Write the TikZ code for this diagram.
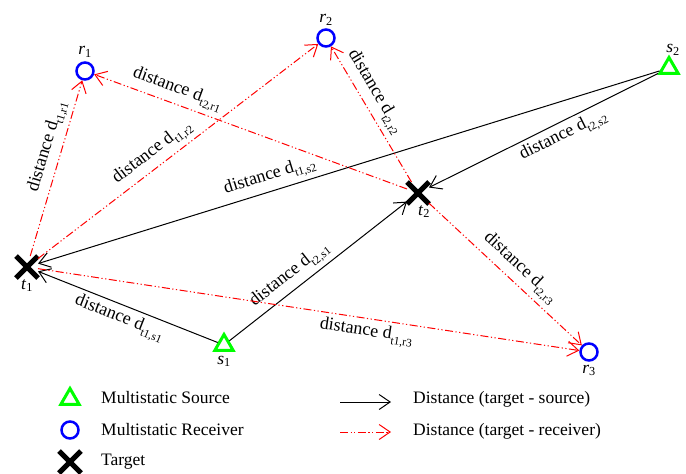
\documentclass[tikz,border=0pt]{standalone}
\usepackage{fontspec}
\setmainfont{Liberation Serif}
\usetikzlibrary{shapes.geometric,shapes.misc,arrows.meta,positioning}
\newcommand{\dsub}[1]{\raisebox{-0.6ex}{\fontsize{11.5}{12}\selectfont #1}}

\begin{document}
\begin{tikzpicture}[x=1pt, y=-1pt, font=\fontsize{17.5}{20}\selectfont]
% Styles
\tikzstyle{receiver} = [circle, draw=blue, line width=2.5pt, minimum size=17pt, inner sep=0pt]
\tikzstyle{source} = [regular polygon, regular polygon sides=3, draw=green, line width=3pt, minimum size=21pt, inner sep=0pt]
\tikzstyle{target} = [cross out, draw=black, line width=5pt, minimum size=17pt, inner sep=0pt]
\tikzstyle{srcarrow} = [line width=1pt, -{Straight Barb[length=11pt,width=15pt]}]
\tikzstyle{rcvarrow} = [line width=1pt, red, dash pattern=on 8pt off 2.5pt on 1.2pt off 2.5pt on 1.2pt off 2.5pt, -{Straight Barb[length=11pt,width=15pt]}]
\tikzstyle{dlabel} = [sloped, text=black, inner sep=4pt, font=\fontsize{18}{20}\selectfont]
\tikzstyle{tag} = [inner sep=1pt]

\useasboundingbox (0,0) rectangle (686,474);

% Nodes
\node (r1) [receiver] at (85,71) {};
\node (r2) [receiver] at (326,38) {};
\node (r3) [receiver] at (589,352) {};
\node (s1) [source] at (224,345) {};
\node (s2) [source] at (669,68) {};
\node (t1) [target] at (27,267) {};
\node (t2) [target] at (418,193) {};

% Names
\node (r1name) [tag, above=3pt of r1] {\textit{r}\textsubscript{1}};
\node (r2name) [tag, above=2pt of r2] {\textit{r}\textsubscript{2}};
\node (r3name) [tag, below=2pt of r3] {\textit{r}\textsubscript{3}};
\node (s1name) [tag, below=3pt of s1] {\textit{s}\textsubscript{1}};
\node (s2name) [tag, above=-2pt of s2, xshift=4pt] {\textit{s}\textsubscript{2}};
\node (t1name) [tag, below=0pt of t1] {\textit{t}\textsubscript{1}};
\node (t2name) [tag, below=0pt of t2, xshift=6pt] {\textit{t}\textsubscript{2}};

% Arrows (target - source)
\draw [srcarrow] (s1) -- node[dlabel, below, pos=0.52] {distance d\dsub{t1,s1}} (t1);
\draw [srcarrow] (s1) -- node[dlabel, above, pos=0.39] {distance d\dsub{t2,s1}} (t2);
\draw [srcarrow] (s2) -- node[dlabel, above, pos=0.62] {distance d\dsub{t1,s2}} (t1);
\draw [srcarrow] (s2) -- node[dlabel, below, pos=0.44] {distance d\dsub{t2,s2}} (t2);

% Arrows (target - receiver)
\draw [rcvarrow] (t1) -- node[dlabel, above, pos=0.6] {distance d\dsub{t1,r1}} (r1);
\draw [rcvarrow] (t1) -- node[dlabel, above, pos=0.44] {distance d\dsub{t1,r2}} (r2);
\draw [rcvarrow] (t1) -- node[dlabel, below, pos=0.61] {distance d\dsub{t1,r3}} (r3);
\draw [rcvarrow] (t2) -- node[dlabel, above, pos=0.75] {distance d\dsub{t2,r1}} (r1);
\draw [rcvarrow] (t2) -- node[dlabel, above, pos=0.61] {distance d\dsub{t2,r2}} (r2);
\draw [rcvarrow] (t2) -- node[dlabel, above, pos=0.53] {distance d\dsub{t2,r3}} (r3);

% Legend
\node (lgsrc) [source] at (70,399) {};
\node (lgrcv) [receiver] at (70,430) {};
\node (lgtgt) [target] at (70,462) {};
\node (lgsrctext) [anchor=west, inner sep=0pt] at (101,398) {Multistatic Source};
\node (lgrcvtext) [anchor=west, inner sep=0pt] at (101,430) {Multistatic Receiver};
\node (lgtgttext) [anchor=west, inner sep=0pt] at (101,462) {Target};
\coordinate (lgsa) at (340,402);
\coordinate (lgsb) at (391,402);
\coordinate (lgra) at (340,432);
\coordinate (lgrb) at (391,432);
\draw [srcarrow] (lgsa) -- (lgsb);
\draw [rcvarrow] (lgra) -- (lgrb);
\node (lgsatext) [anchor=west, inner sep=0pt] at (413,399) {Distance (target - source)};
\node (lgratext) [anchor=west, inner sep=0pt] at (413,431) {Distance (target - receiver)};

\end{tikzpicture}
\end{document}
